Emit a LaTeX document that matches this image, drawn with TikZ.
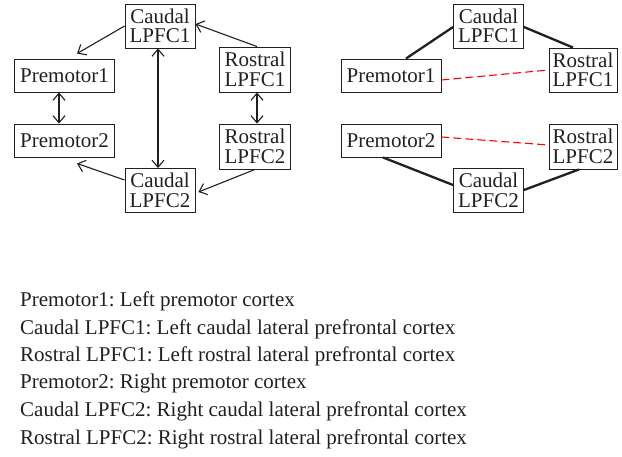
\documentclass[tikz,border=0pt]{standalone}
\usepackage{fontspec}
\setmainfont{Liberation Serif}
\usetikzlibrary{arrows.meta}
\definecolor{ink}{HTML}{231F20}
\frenchspacing
\tikzset{
  box/.style={draw=ink, line width=0.9pt, inner sep=0pt, align=center, text=ink,
    font=\fontsize{21}{19.5}\selectfont},
  caud/.style={box, minimum width=70pt, minimum height=44pt},
  prem/.style={box, minimum width=100pt, minimum height=33pt},
  rost/.style={box, minimum width=71pt, minimum height=45pt},
  arr/.style={draw=ink, line width=1.1pt, -{Straight Barb[length=7pt,width=12pt,line width=1.1pt]}},
  darr/.style={draw=ink, line width=1.1pt, {Straight Barb[length=7pt,width=12pt,line width=1.1pt]}-{Straight Barb[length=7pt,width=12pt,line width=1.1pt]}},
  thick link/.style={draw=ink, line width=2.3pt},
  red link/.style={draw=red, line width=1.1pt, dash pattern=on 8pt off 4pt},
  legend/.style={anchor=base west, inner sep=0pt, text=ink, font=\fontsize{21}{24}\selectfont}
}
\begin{document}
\begin{tikzpicture}[x=1pt,y=-1pt]
\useasboundingbox (0,0) rectangle (622,456);
% left diagram
\node[caud] (c1) at (160,26) {Caudal\\LPFC1};
\node[prem] (p1) at (64.5,75.5) {Premotor1};
\node[prem] (p2) at (64.5,140.5) {Premotor2};
\node[rost] (r1) at (255,69.5) {Rostral\\LPFC1};
\node[rost] (r2) at (255,146.5) {Rostral\\LPFC2};
\node[caud] (c2) at (160,190.5) {Caudal\\LPFC2};
\draw[arr] (c1.west) -- ([xshift=12.5pt,yshift=5pt]p1.north);
\draw[darr] ([xshift=-5.5pt]p1.south) -- ([xshift=-5.5pt]p2.north);
\draw[darr] ([xshift=-2pt]c1.south) -- ([xshift=-2pt]c2.north);
\draw[arr] ([xshift=2pt]r1.north) -- ([yshift=2pt]c1.east);
\draw[darr] ([xshift=2pt]r1.south) -- ([xshift=2pt]r2.north);
\draw[arr] (r2.south) -- ([xshift=3pt,yshift=-1.5pt]c2.east);
\draw[arr] ([yshift=10.5pt]c2.west) -- ([xshift=12.5pt,yshift=-6pt]p2.south);
% right diagram
\node[caud] (C1) at (488.5,26) {Caudal\\LPFC1};
\node[prem] (P1) at (391,75.5) {Premotor1};
\node[rost, minimum width=68pt, minimum height=44pt] (R1) at (583,70) {Rostral\\LPFC1};
\node[prem] (P2) at (391,140.5) {Premotor2};
\node[rost, minimum width=68pt] (R2) at (583,146.5) {Rostral\\LPFC2};
\node[caud] (C2) at (488.5,190.5) {Caudal\\LPFC2};
\draw[thick link] ([xshift=15pt]P1.north) -- ([yshift=-1pt]C1.west);
\draw[thick link] ([yshift=-1pt]C1.east) -- ([xshift=-10pt]R1.north);
\draw[thick link] ([xshift=-8pt]P2.south) -- ([yshift=5.5pt]C2.west);
\draw[thick link] ([yshift=0.5pt]C2.east) -- ([xshift=-4pt]R2.south);
\draw[red link] ([yshift=-4.5pt]P1.east) -- (R1.west);
\draw[red link] ([yshift=3.5pt]P2.east) -- ([yshift=1.5pt]R2.west);
% legend
\node[legend] (l1) at (20,306.5) {Premotor1: Left premotor cortex};
\node[legend] (l2) at (20,334) {Caudal LPFC1: Left caudal lateral prefrontal cortex};
\node[legend] (l3) at (20,361.5) {Rostral LPFC1: Left rostral lateral prefrontal cortex};
\node[legend] (l4) at (20,388.5) {Premotor2: Right premotor cortex};
\node[legend] (l5) at (20,416.5) {Caudal LPFC2: Right caudal lateral prefrontal cortex};
\node[legend] (l6) at (20,444) {Rostral LPFC2: Right rostral lateral prefrontal cortex};
\end{tikzpicture}
\end{document}
